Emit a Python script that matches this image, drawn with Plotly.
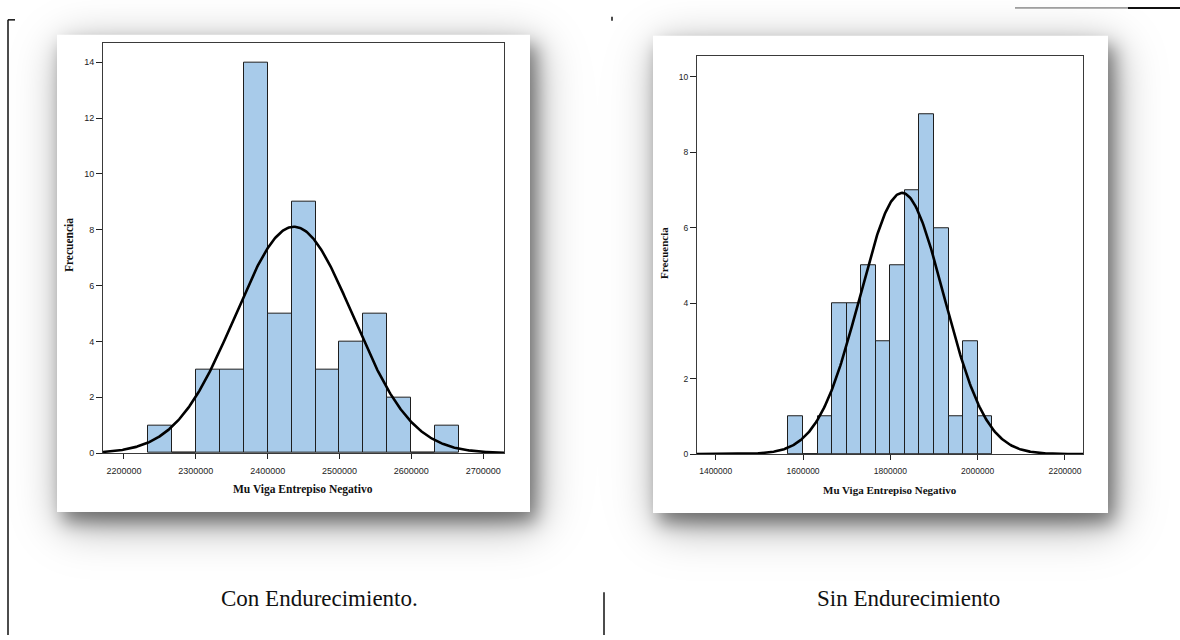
import base64
import math
import struct
import zlib

import numpy as np
import plotly.graph_objects as go

W, H = 1180, 640

# ---- data -------------------------------------------------------------
bin_width = 100000 / 3

# Con Endurecimiento
con_first_edge = 2233333.33
con_counts = [1, 0, 3, 3, 14, 5, 9, 3, 4, 5, 2, 0, 1]
con_mean = 2436667
con_sd = 82000
con_n = 50
con_ticks = [2200000, 2300000, 2400000, 2500000, 2600000, 2700000]
con_yticks = [0, 2, 4, 6, 8, 10, 12, 14]

# Sin Endurecimiento
sin_first_edge = 1566666.67
sin_counts = [1, 0, 1, 4, 4, 5, 3, 5, 7, 9, 6, 1, 3, 1]
sin_mean = 1826667
sin_sd = 96000
sin_n = 50
sin_ticks = [1400000, 1600000, 1800000, 2000000, 2200000]
sin_yticks = [0, 2, 4, 6, 8, 10]

x_title = "Mu Viga Entrepiso Negativo"
y_title = "Frecuencia"
captions = ["Con Endurecimiento.", "Sin Endurecimiento"]

BAR_FILL = "#a8cbea"
BAR_LINE = "#1e1e1e"


def px(x):
    return x / W


def py(y):
    return 1 - y / H


# ---- background: white chart cards with soft drop shadows ------------
# the bitmap is padded on every side so its borders fall outside the page
PAD = 20
BW, BH = W + 2 * PAD, H + 2 * PAD
_erf = np.vectorize(math.erf)


def blurred_interval(n, a, b, s):
    t = np.arange(n) + 0.5 - PAD
    return 0.5 * (_erf((t - a) / (s * math.sqrt(2))) - _erf((t - b) / (s * math.sqrt(2))))


cards = [(57, 35, 530, 516), (653, 36, 1108, 517)]
# (dx, dy, sigma_x, sigma_y, strength): a tight dark layer plus a wide soft one
shadow_layers = [(6, 10, 9, 9, 0.42), (6, 12, 22, 22, 0.38)]
keep = np.ones((BH, BW))
for (x0, y0, x1, y1) in cards:
    for (dx, dy, sx, sy, k) in shadow_layers:
        fx = blurred_interval(BW, x0 + dx, x1 + dx, sx)
        fy = blurred_interval(BH, y0 + dy, y1 + dy, sy)
        keep *= 1 - k * np.outer(fy, fx)

img = np.repeat((255 * keep)[:, :, None], 3, axis=2)
for (x0, y0, x1, y1) in cards:
    img[y0 + PAD:y1 + PAD, x0 + PAD:x1 + PAD, :] = 255
img = np.clip(np.round(img), 0, 255).astype(np.uint8)


def png_uri(rgb):
    h, w, _ = rgb.shape
    raw = b"".join(b"\x00" + rgb[r].tobytes() for r in range(h))

    def chunk(tag, data):
        body = tag + data
        return struct.pack(">I", len(data)) + body + struct.pack(">I", zlib.crc32(body) & 0xFFFFFFFF)

    png = (b"\x89PNG\r\n\x1a\n"
           + chunk(b"IHDR", struct.pack(">IIBBBBB", w, h, 8, 2, 0, 0, 0))
           + chunk(b"IDAT", zlib.compress(raw, 9))
           + chunk(b"IEND", b""))
    return "data:image/png;base64," + base64.b64encode(png).decode()


# ---- figure -----------------------------------------------------------
fig = go.Figure()


def add_histogram(first_edge, counts, mean, sd, n, xr, xa, ya):
    edges = [first_edge + i * bin_width for i in range(len(counts))]
    fig.add_trace(go.Bar(
        x=edges, y=counts, width=bin_width, offset=0,
        marker=dict(color=BAR_FILL, line=dict(color=BAR_LINE, width=1)),
        xaxis=xa, yaxis=ya, showlegend=False, hoverinfo="skip",
    ))
    xs = np.linspace(xr[0], xr[1], 400)
    ys = n * bin_width * np.exp(-0.5 * ((xs - mean) / sd) ** 2) / (sd * math.sqrt(2 * math.pi))
    fig.add_trace(go.Scatter(
        x=xs, y=ys, mode="lines", line=dict(color="#000000", width=2.6),
        xaxis=xa, yaxis=ya, showlegend=False, hoverinfo="skip",
    ))


con_xr = [2170800, 2729000]
sin_xr = [1357100, 2241300]
add_histogram(con_first_edge, con_counts, con_mean, con_sd, con_n, con_xr, "x", "y")
add_histogram(sin_first_edge, sin_counts, sin_mean, sin_sd, sin_n, sin_xr, "x2", "y2")

axis_common = dict(
    showgrid=False, zeroline=False, showline=True, mirror=True,
    linecolor="#3a3a3a", linewidth=1, ticks="outside", tickcolor="#222222",
    tickwidth=1, fixedrange=True,
)
tick_font = dict(family="Liberation Sans, Arial, sans-serif", size=9, color="#222222")

fig.update_layout(
    width=W, height=H,
    margin=dict(l=0, r=0, t=0, b=0),
    paper_bgcolor="white", plot_bgcolor="rgba(0,0,0,0)",
    bargap=0,
    xaxis=dict(axis_common, domain=[px(103), px(504)], range=con_xr,
               tickvals=con_ticks, ticktext=[str(v) for v in con_ticks],
               ticklen=5, ticklabelstandoff=4, tickfont=tick_font, anchor="y"),
    yaxis=dict(axis_common, domain=[py(456.7), py(43)], range=[0, 14.7],
               tickvals=con_yticks, ticklen=6, tickfont=tick_font, anchor="x"),
    xaxis2=dict(axis_common, domain=[px(697), px(1083)], range=sin_xr,
                tickvals=sin_ticks, ticktext=[str(v) for v in sin_ticks],
                ticklen=5, ticklabelstandoff=4, tickfont=dict(tick_font, size=8.5), anchor="y2"),
    yaxis2=dict(axis_common, domain=[py(457.7), py(56.7)], range=[0, 10.55],
                tickvals=sin_yticks, ticklen=6, tickfont=dict(tick_font, size=8.5), anchor="x2"),
    images=[dict(source=png_uri(img), xref="paper", yref="paper",
                 x=-PAD / W, y=1 + PAD / H, sizex=BW / W, sizey=BH / H,
                 xanchor="left", yanchor="top",
                 sizing="stretch", layer="below")],
)

title_font = dict(family="Liberation Serif, Times New Roman, serif", size=11.5, color="#111111")
cap_font = dict(family="Liberation Serif, Times New Roman, serif", size=23, color="#111111")


def note(x, y, text, font, angle=0):
    fig.add_annotation(x=px(x), y=py(y), xref="paper", yref="paper", text=text,
                       showarrow=False, font=font, textangle=angle,
                       xanchor="center", yanchor="middle")


note(69, 247, "<b>%s</b>" % y_title, title_font, -90)
note(664, 255, "<b>%s</b>" % y_title, dict(title_font, size=11), -90)
note(303, 493, "<b>%s</b>" % x_title, title_font)
note(890, 494, "<b>%s</b>" % x_title, dict(title_font, size=11))
note(319, 603, captions[0], cap_font)
note(908, 603, captions[1], cap_font)

# document frame lines around the layout
frame = [
    (8, 20, 8, 640, 1.5, "#111111"),
    (8, 20, 15, 20, 1.5, "#111111"),
    (612, 17, 612, 21, 1.5, "#111111"),
    (604, 597, 604, 640, 1.5, "#111111"),
    (1015, 8, 1128, 8, 1, "#555555"),
    (1128, 8, 1180, 8, 2, "#111111"),
]
for (x0, y0, x1, y1, w, c) in frame:
    fig.add_shape(type="line", xref="paper", yref="paper",
                  x0=px(x0), y0=py(y0), x1=px(x1), y1=py(y1),
                  line=dict(color=c, width=w))

fig.write_html("out.html")
